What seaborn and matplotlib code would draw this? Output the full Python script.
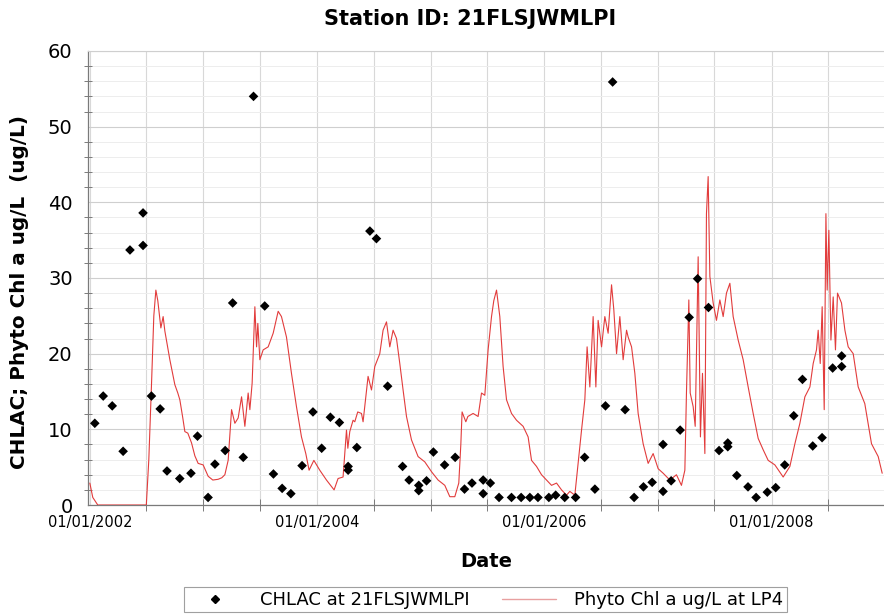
import numpy as np
import pandas as pd
import matplotlib
matplotlib.use("Agg")
import matplotlib.pyplot as plt
import matplotlib.dates as mdates
from matplotlib.ticker import MultipleLocator
from matplotlib.lines import Line2D
import seaborn as sns

# ---------------- data ----------------
obs_dates = [
    "2002-01-17", "2002-02-13", "2002-03-14", "2002-04-18", "2002-05-10", "2002-06-21",
    "2002-06-21", "2002-07-18", "2002-08-15", "2002-09-06", "2002-10-17", "2002-11-22",
    "2002-12-13", "2003-01-16", "2003-02-07", "2003-03-12", "2003-04-05", "2003-05-09",
    "2003-06-11", "2003-07-17", "2003-08-14", "2003-09-11", "2003-10-09", "2003-11-14",
    "2003-12-19", "2004-01-16", "2004-02-13", "2004-03-13", "2004-04-10", "2004-04-10",
    "2004-05-08", "2004-06-19", "2004-07-10", "2004-08-15", "2004-10-02", "2004-10-23",
    "2004-11-23", "2004-11-23", "2004-12-18", "2005-01-09", "2005-02-14", "2005-03-20",
    "2005-04-19", "2005-05-13", "2005-06-18", "2005-06-18", "2005-07-11", "2005-08-08",
    "2005-09-17", "2005-10-18", "2005-11-15", "2005-12-11", "2006-01-15", "2006-02-06",
    "2006-03-07", "2006-04-11", "2006-05-10", "2006-06-12", "2006-07-16", "2006-08-08",
    "2006-09-17", "2006-10-16", "2006-11-15", "2006-12-13", "2007-01-17", "2007-01-17",
    "2007-02-12", "2007-03-13", "2007-04-11", "2007-05-08", "2007-06-12", "2007-07-16",
    "2007-08-13", "2007-08-13", "2007-09-11", "2007-10-17", "2007-11-12", "2007-12-18",
    "2008-01-14", "2008-02-12", "2008-03-12", "2008-04-09", "2008-05-12", "2008-06-11",
    "2008-07-15", "2008-08-13", "2008-08-13",
]
obs_values = [
    10.8, 14.4, 13.1, 7.1, 33.7, 38.6,
    34.3, 14.4, 12.7, 4.5, 3.5, 4.2,
    9.1, 1.0, 5.4, 7.2, 26.7, 6.3,
    54.0, 26.3, 4.1, 2.2, 1.5, 5.2,
    12.3, 7.5, 11.6, 10.9, 5.1, 4.6,
    7.6, 36.2, 35.2, 15.7, 5.1, 3.3,
    2.6, 1.9, 3.2, 7.0, 5.3, 6.3,
    2.1, 2.9, 3.3, 1.5, 2.9, 1.0,
    1.0, 1.0, 1.0, 1.0, 1.0, 1.3,
    1.0, 1.0, 6.3, 2.1, 13.1, 55.9,
    12.6, 1.0, 2.4, 3.0, 8.0, 1.8,
    3.2, 9.9, 24.8, 29.9, 26.1, 7.2,
    8.2, 7.7, 3.9, 2.4, 1.0, 1.7,
    2.3, 5.3, 11.8, 16.6, 7.8, 8.9,
    18.1, 19.7, 18.3,
]

# model series: decimal year and value
model_years = [
    2002.000, 2002.026, 2002.070, 2002.497, 2002.519, 2002.543, 2002.563, 2002.581,
    2002.598, 2002.625, 2002.645, 2002.660, 2002.704, 2002.748, 2002.774, 2002.792,
    2002.818, 2002.836, 2002.862, 2002.895, 2002.924, 2002.953, 2002.997, 2003.041,
    2003.082, 2003.129, 2003.161, 2003.188, 2003.217, 2003.247, 2003.276, 2003.305,
    2003.335, 2003.364, 2003.393, 2003.408, 2003.428, 2003.452, 2003.467, 2003.478,
    2003.496, 2003.525, 2003.569, 2003.613, 2003.657, 2003.686, 2003.730, 2003.774,
    2003.818, 2003.862, 2003.900, 2003.929, 2003.971, 2004.023, 2004.082, 2004.149,
    2004.184, 2004.228, 2004.258, 2004.270, 2004.287, 2004.316, 2004.331, 2004.357,
    2004.390, 2004.404, 2004.448, 2004.478, 2004.507, 2004.551, 2004.580, 2004.610,
    2004.639, 2004.668, 2004.698, 2004.727, 2004.756, 2004.786, 2004.830, 2004.888,
    2004.947, 2005.006, 2005.064, 2005.123, 2005.167, 2005.211, 2005.246, 2005.264,
    2005.275, 2005.308, 2005.326, 2005.372, 2005.416, 2005.446, 2005.475, 2005.504,
    2005.534, 2005.554, 2005.578, 2005.607, 2005.636, 2005.666, 2005.710, 2005.754,
    2005.812, 2005.856, 2005.886, 2005.930, 2005.974, 2006.018, 2006.062, 2006.106,
    2006.150, 2006.194, 2006.223, 2006.267, 2006.296, 2006.326, 2006.355, 2006.375,
    2006.399, 2006.428, 2006.452, 2006.472, 2006.502, 2006.531, 2006.560, 2006.590,
    2006.610, 2006.634, 2006.663, 2006.692, 2006.722, 2006.736, 2006.766, 2006.795,
    2006.824, 2006.868, 2006.912, 2006.956, 2007.000, 2007.044, 2007.103, 2007.161,
    2007.205, 2007.235, 2007.249, 2007.270, 2007.282, 2007.308, 2007.326, 2007.352,
    2007.372, 2007.390, 2007.411, 2007.425, 2007.440, 2007.455, 2007.484, 2007.513,
    2007.543, 2007.572, 2007.601, 2007.631, 2007.660, 2007.704, 2007.748, 2007.792,
    2007.836, 2007.880, 2007.924, 2007.968, 2008.027, 2008.100, 2008.159, 2008.203,
    2008.247, 2008.291, 2008.335, 2008.364, 2008.393, 2008.408, 2008.426, 2008.443,
    2008.461, 2008.476, 2008.487, 2008.502, 2008.520, 2008.540, 2008.560, 2008.578,
    2008.613, 2008.643, 2008.672, 2008.716, 2008.760, 2008.818, 2008.877, 2008.936,
    2008.971,
]
model_values = [
    2.9, 1.0, 0.0, 0.0, 6.0, 16.1, 25.0, 28.4,
    27.0, 23.4, 24.9, 23.0, 19.2, 15.9, 14.8, 13.9,
    11.5, 9.7, 9.5, 8.2, 6.5, 5.5, 5.3, 3.8,
    3.3, 3.4, 3.6, 4.0, 5.9, 12.6, 10.8, 11.5,
    14.3, 10.4, 14.8, 12.6, 16.1, 26.2, 20.9, 24.0,
    19.2, 20.5, 20.9, 22.7, 25.6, 24.9, 22.2, 17.4,
    13.0, 9.0, 6.8, 4.6, 5.9, 4.6, 3.3, 2.0,
    3.5, 3.7, 9.9, 7.5, 9.7, 11.2, 11.0, 12.3,
    12.1, 11.0, 17.0, 15.2, 18.3, 20.0, 23.1, 24.2,
    20.9, 23.1, 22.0, 18.7, 15.2, 11.7, 8.6, 6.4,
    5.7, 4.4, 3.3, 2.6, 1.1, 1.1, 2.9, 8.0,
    12.3, 11.0, 11.7, 12.1, 11.7, 14.8, 14.5, 20.5,
    24.9, 27.0, 28.4, 24.9, 18.3, 13.9, 12.1, 11.2,
    10.4, 9.0, 5.9, 5.1, 4.0, 3.3, 2.6, 2.9,
    2.0, 1.3, 1.8, 1.3, 5.5, 9.9, 13.9, 20.9,
    15.6, 24.9, 15.6, 24.4, 20.9, 24.9, 22.7, 29.1,
    25.8, 20.0, 24.9, 19.2, 23.1, 22.2, 20.9, 17.4,
    12.1, 8.1, 5.5, 6.8, 4.8, 4.2, 3.3, 4.0,
    2.6, 4.6, 14.8, 27.1, 14.8, 13.0, 10.4, 32.8,
    9.0, 17.4, 6.8, 38.5, 43.4, 30.2, 26.7, 24.4,
    27.1, 24.9, 28.0, 29.3, 24.9, 21.8, 19.2, 15.6,
    12.1, 8.8, 7.3, 5.9, 5.3, 3.7, 5.1, 8.1,
    10.8, 14.3, 15.6, 18.7, 20.5, 23.1, 18.7, 26.2,
    12.6, 38.5, 28.4, 36.3, 21.8, 27.5, 20.5, 28.0,
    26.7, 23.1, 20.9, 20.0, 15.6, 13.4, 8.1, 6.4,
    4.2,
]

obs_label = "CHLAC at 21FLSJWMLPI"
model_label = "Phyto Chl a ug/L at LP4"
title_text = "Station ID: 21FLSJWMLPI"
ylabel_text = "CHLAC; Phyto Chl a ug/L  (ug/L)"
xlabel_text = "Date"

# ---------------- frames ----------------
obs = pd.DataFrame({"date": pd.to_datetime(obs_dates), "value": obs_values})
base = pd.Timestamp("2002-01-01")
my = np.array(model_years)
model = pd.DataFrame({
    "date": base + pd.to_timedelta((my - 2002.0) * 365.25, unit="D"),
    "value": model_values,
})

# ---------------- plot ----------------
sns.set_style("white")
plt.rcParams["font.family"] = ["DejaVu Sans"]
plt.rcParams["text.color"] = "black"
plt.rcParams["axes.labelcolor"] = "black"
plt.rcParams["xtick.labelcolor"] = "black"
plt.rcParams["ytick.labelcolor"] = "black"

fig = plt.figure(figsize=(8.84, 6.14), dpi=100)
ax = fig.add_axes([0.0995, 0.1775, 0.9005, 0.7395])

sns.lineplot(data=model, x="date", y="value", ax=ax, color="#e23c3c",
             linewidth=0.8, estimator=None, sort=False, zorder=3)
sns.scatterplot(data=obs, x="date", y="value", ax=ax, marker="D", s=24,
                color="black", edgecolor="none", zorder=4)

ax.set_ylim(0, 60)
ax.set_xlim(pd.Timestamp("2001-12-26"), pd.Timestamp("2008-12-27"))
ax.yaxis.set_major_locator(MultipleLocator(10))
ax.yaxis.set_minor_locator(MultipleLocator(2))
ax.xaxis.set_major_locator(mdates.YearLocator(2, month=1, day=1))
ax.xaxis.set_minor_locator(mdates.MonthLocator(bymonth=[1, 7]))
ax.xaxis.set_major_formatter(mdates.DateFormatter("%m/%d/%Y"))

ax.grid(which="major", axis="y", color="#cfcfcf", linewidth=0.8)
ax.grid(which="minor", axis="y", color="#ededed", linewidth=0.7)
ax.grid(which="both", axis="x", color="#d8d8d8", linewidth=0.8)
ax.set_axisbelow(True)

ax.spines["right"].set_visible(False)
ax.spines["top"].set_color("#cfcfcf")
ax.spines["left"].set_color("#7a7a7a")
ax.spines["bottom"].set_color("#7a7a7a")
ax.spines["left"].set_linewidth(0.9)
ax.spines["bottom"].set_linewidth(0.9)

ax.tick_params(axis="y", which="major", direction="inout", length=10, width=0.8,
               color="#7a7a7a", labelsize=14, pad=6)
ax.tick_params(axis="y", which="minor", direction="inout", length=6, width=0.7,
               color="#7a7a7a", left=True)
ax.tick_params(axis="x", which="major", direction="inout", length=10, width=0.8,
               color="#7a7a7a", labelsize=10.5, pad=2)
ax.tick_params(axis="x", which="minor", direction="inout", length=8, width=0.7,
               color="#7a7a7a", bottom=True)

ax.set_xlabel(xlabel_text, fontsize=14, fontweight="bold", labelpad=16)
ax.set_ylabel(ylabel_text, fontsize=14.4, fontweight="bold")
ax.yaxis.set_label_coords(-0.074, 0.469)
fig.suptitle(title_text, x=0.532, y=0.985, fontsize=15, fontweight="bold",
             color="black")

if ax.get_legend() is not None:
    ax.get_legend().remove()

handles = [
    Line2D([], [], marker="D", linestyle="none", color="black", markersize=4),
    Line2D([], [], color="#e8a0a0", linewidth=1.0),
]
leg = fig.legend(handles, [obs_label, model_label], loc="center",
                 bbox_to_anchor=(0.5495, 0.023), ncol=2, fontsize=13,
                 frameon=True, fancybox=False, edgecolor="#888888",
                 borderpad=0.2, borderaxespad=0.0, handlelength=3.0,
                 columnspacing=1.8, handletextpad=1.0)
leg.get_frame().set_linewidth(0.8)

fig.savefig("out.png", dpi=100)
